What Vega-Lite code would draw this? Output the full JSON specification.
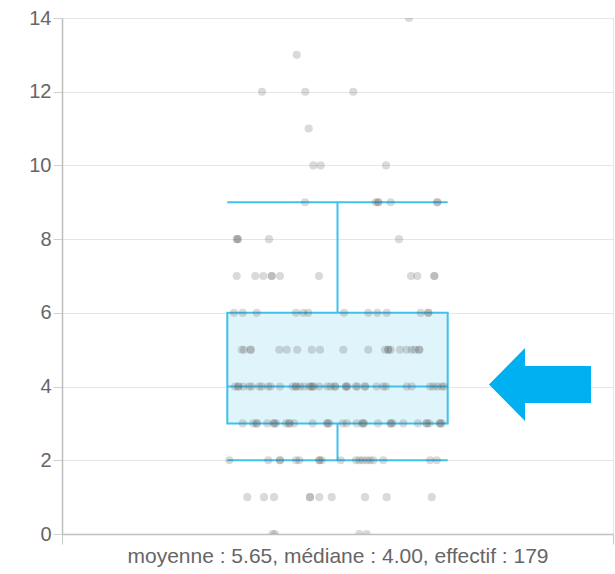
{
  "$schema": "https://vega.github.io/schema/vega-lite/v6.json",
  "width": 551,
  "height": 516,
  "autosize": {"type": "none"},
  "padding": {"left": 62, "top": 18, "right": 2, "bottom": 40},
  "background": "white",
  "config": {
    "view": {"stroke": null},
    "font": "Liberation Sans",
    "axis": {"labelFont": "Liberation Sans", "titleFont": "Liberation Sans"}
  },
  "datasets": {
    "box": [{"left": 0.3, "right": 0.7, "center": 0.5, "lower": 2, "q1": 3, "median": 4, "q3": 6, "upper": 9}],
    "arrow": [{"x": 0.8675, "y": 4.056}],
    "pts": [
      {"x":0.3824,"y":0},{"x":0.3866,"y":0},{"x":0.5396,"y":0},{"x":0.5530,"y":0},
      {"x":0.3363,"y":1},{"x":0.3666,"y":1},{"x":0.3848,"y":1},{"x":0.4501,"y":1},{"x":0.4501,"y":1},{"x":0.4670,"y":1},{"x":0.4895,"y":1},{"x":0.5499,"y":1},{"x":0.5893,"y":1},{"x":0.6710,"y":1},
      {"x":0.3036,"y":2},{"x":0.3744,"y":2},{"x":0.3956,"y":2},{"x":0.3956,"y":2},{"x":0.4247,"y":2},{"x":0.4307,"y":2},{"x":0.4670,"y":2},{"x":0.4670,"y":2},{"x":0.4713,"y":2},{"x":0.5058,"y":2},{"x":0.5336,"y":2},{"x":0.5396,"y":2},{"x":0.5457,"y":2},{"x":0.5530,"y":2},{"x":0.5590,"y":2},{"x":0.5650,"y":2},{"x":0.5831,"y":2},{"x":0.6679,"y":2},{"x":0.6800,"y":2},
      {"x":0.3279,"y":3},{"x":0.3472,"y":3},{"x":0.3534,"y":3},{"x":0.3534,"y":3},{"x":0.3726,"y":3},{"x":0.3848,"y":3},{"x":0.3848,"y":3},{"x":0.3884,"y":3},{"x":0.4065,"y":3},{"x":0.4125,"y":3},{"x":0.4125,"y":3},{"x":0.4211,"y":3},{"x":0.4550,"y":3},{"x":0.4815,"y":3},{"x":0.4815,"y":3},{"x":0.4851,"y":3},{"x":0.5094,"y":3},{"x":0.5167,"y":3},{"x":0.5348,"y":3},{"x":0.5457,"y":3},{"x":0.5457,"y":3},{"x":0.5481,"y":3},{"x":0.5735,"y":3},{"x":0.5965,"y":3},{"x":0.5965,"y":3},{"x":0.6002,"y":3},{"x":0.6194,"y":3},{"x":0.6461,"y":3},{"x":0.6619,"y":3},{"x":0.6619,"y":3},{"x":0.6666,"y":3},{"x":0.6860,"y":3},{"x":0.6860,"y":3},{"x":0.6891,"y":3},
      {"x":0.3140,"y":4},{"x":0.3200,"y":4},{"x":0.3200,"y":4},{"x":0.3290,"y":4},{"x":0.3399,"y":4},{"x":0.3443,"y":4},{"x":0.3581,"y":4},{"x":0.3624,"y":4},{"x":0.3744,"y":4},{"x":0.3788,"y":4},{"x":0.3956,"y":4},{"x":0.4187,"y":4},{"x":0.4247,"y":4},{"x":0.4247,"y":4},{"x":0.4319,"y":4},{"x":0.4392,"y":4},{"x":0.4488,"y":4},{"x":0.4532,"y":4},{"x":0.4532,"y":4},{"x":0.4574,"y":4},{"x":0.4670,"y":4},{"x":0.4815,"y":4},{"x":0.4877,"y":4},{"x":0.4955,"y":4},{"x":0.4955,"y":4},{"x":0.5154,"y":4},{"x":0.5154,"y":4},{"x":0.5178,"y":4},{"x":0.5336,"y":4},{"x":0.5359,"y":4},{"x":0.5499,"y":4},{"x":0.5499,"y":4},{"x":0.5711,"y":4},{"x":0.5831,"y":4},{"x":0.5880,"y":4},{"x":0.6256,"y":4},{"x":0.6347,"y":4},{"x":0.6679,"y":4},{"x":0.6739,"y":4},{"x":0.6811,"y":4},{"x":0.6891,"y":4},{"x":0.6933,"y":4},
      {"x":0.3261,"y":5},{"x":0.3303,"y":5},{"x":0.3425,"y":5},{"x":0.3425,"y":5},{"x":0.3944,"y":5},{"x":0.4078,"y":5},{"x":0.4270,"y":5},{"x":0.4532,"y":5},{"x":0.4682,"y":5},{"x":0.5105,"y":5},{"x":0.5559,"y":5},{"x":0.5862,"y":5},{"x":0.5922,"y":5},{"x":0.5922,"y":5},{"x":0.5965,"y":5},{"x":0.6134,"y":5},{"x":0.6256,"y":5},{"x":0.6347,"y":5},{"x":0.6407,"y":5},{"x":0.6485,"y":5},{"x":0.6485,"y":5},
      {"x":0.3122,"y":6},{"x":0.3279,"y":6},{"x":0.3534,"y":6},{"x":0.4247,"y":6},{"x":0.4379,"y":6},{"x":0.4470,"y":6},{"x":0.5118,"y":6},{"x":0.5559,"y":6},{"x":0.5722,"y":6},{"x":0.5893,"y":6},{"x":0.6510,"y":6},{"x":0.6648,"y":6},{"x":0.6648,"y":6},
      {"x":0.3171,"y":7},{"x":0.3508,"y":7},{"x":0.3653,"y":7},{"x":0.3806,"y":7},{"x":0.3806,"y":7},{"x":0.3956,"y":7},{"x":0.4664,"y":7},{"x":0.6334,"y":7},{"x":0.6448,"y":7},{"x":0.6757,"y":7},{"x":0.6757,"y":7},
      {"x":0.3171,"y":8},{"x":0.3189,"y":8},{"x":0.3189,"y":8},{"x":0.3757,"y":8},{"x":0.6116,"y":8},
      {"x":0.4410,"y":9},{"x":0.5693,"y":9},{"x":0.5740,"y":9},{"x":0.5740,"y":9},{"x":0.5965,"y":9},{"x":0.6811,"y":9},{"x":0.6811,"y":9},
      {"x":0.4561,"y":10},{"x":0.4695,"y":10},{"x":0.5880,"y":10},
      {"x":0.4477,"y":11},
      {"x":0.3630,"y":12},{"x":0.4416,"y":12},{"x":0.5287,"y":12},
      {"x":0.4260,"y":13},
      {"x":0.6298,"y":14}
    ]
  },
  "encoding": {
    "x": {
      "type": "quantitative",
      "scale": {"domain": [0, 1], "nice": false, "zero": false},
      "axis": {
        "values": [0, 1], "labels": false, "grid": true, "gridColor": "#e6e6e6",
        "ticks": true, "tickSize": 10, "tickColor": "#c8c8c8",
        "domainColor": "#c0c0c0", "domainWidth": 1.5,
        "title": "moyenne : 5.65, médiane : 4.00, effectif : 179",
        "titleFontSize": 21, "titleFontWeight": "normal", "titleColor": "#666666", "titlePadding": 1
      }
    },
    "y": {
      "type": "quantitative",
      "scale": {"domain": [0, 14], "nice": false, "zero": false},
      "axis": {
        "values": [0, 2, 4, 6, 8, 10, 12, 14], "grid": true, "gridColor": "#e6e6e6",
        "tickSize": 9, "tickColor": "#d0d0d0", "domainColor": "#bdbdbd", "domainWidth": 1.5,
        "labelFontSize": 20, "labelColor": "#666666", "labelPadding": 2, "title": null
      }
    }
  },
  "layer": [
    {
      "data": {"name": "box"},
      "mark": {"type": "rect", "fill": "#e0f4fb", "stroke": "#3fc1ec", "strokeWidth": 2},
      "encoding": {
        "x": {"field": "left"},
        "x2": {"field": "right"},
        "y": {"field": "q1"},
        "y2": {"field": "q3"}
      }
    },
    {
      "data": {"name": "box"},
      "mark": {"type": "rule", "color": "#3fc1ec", "strokeWidth": 2},
      "encoding": {
        "x": {"field": "center"},
        "y": {"field": "lower"},
        "y2": {"field": "q1"}
      }
    },
    {
      "data": {"name": "box"},
      "mark": {"type": "rule", "color": "#3fc1ec", "strokeWidth": 2},
      "encoding": {
        "x": {"field": "center"},
        "y": {"field": "q3"},
        "y2": {"field": "upper"}
      }
    },
    {
      "data": {"name": "box"},
      "mark": {"type": "rule", "color": "#3fc1ec", "strokeWidth": 2},
      "encoding": {
        "x": {"field": "left"},
        "x2": {"field": "right"},
        "y": {"field": "median"}
      }
    },
    {
      "data": {"name": "box"},
      "mark": {"type": "rule", "color": "#3fc1ec", "strokeWidth": 2},
      "encoding": {
        "x": {"field": "left"},
        "x2": {"field": "right"},
        "y": {"field": "lower"}
      }
    },
    {
      "data": {"name": "box"},
      "mark": {"type": "rule", "color": "#3fc1ec", "strokeWidth": 2},
      "encoding": {
        "x": {"field": "left"},
        "x2": {"field": "right"},
        "y": {"field": "upper"}
      }
    },
    {
      "data": {"name": "pts"},
      "mark": {"type": "circle", "size": 66, "color": "#555555", "opacity": 0.22, "clip": true},
      "encoding": {
        "x": {"field": "x"},
        "y": {"field": "y"}
      }
    },
    {
      "data": {"name": "arrow"},
      "mark": {
        "type": "point", "filled": true, "fill": "#00b0f0", "opacity": 1, "strokeWidth": 0, "size": 10404,
        "shape": "M -1 0 L -0.294 -0.716 L -0.294 -0.363 L 1 -0.363 L 1 0.363 L -0.294 0.363 L -0.294 0.716 Z"
      },
      "encoding": {
        "x": {"field": "x"},
        "y": {"field": "y"}
      }
    }
  ]
}
